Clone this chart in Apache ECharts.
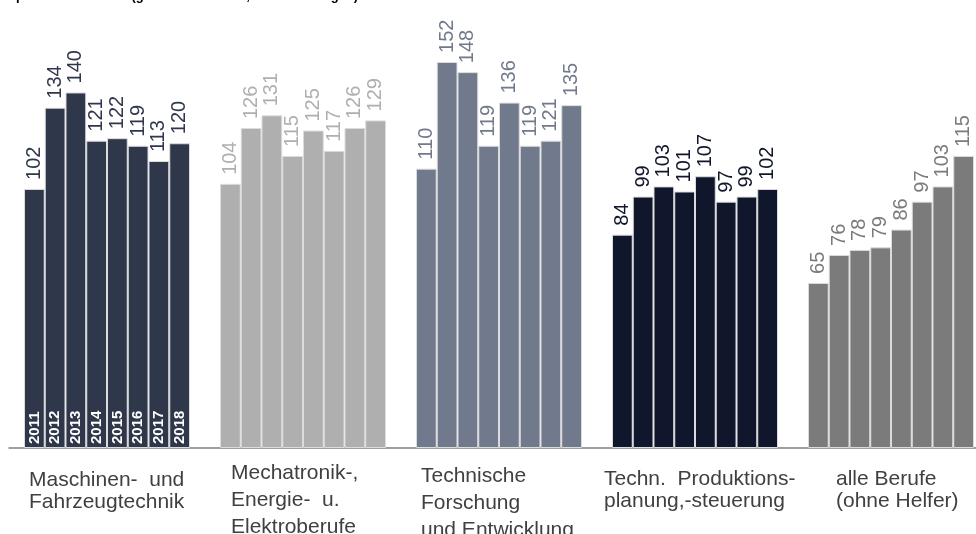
<!DOCTYPE html>
<html>
<head>
<meta charset="utf-8">
<script src="https://cdn.jsdelivr.net/npm/echarts@6/dist/echarts.min.js"></script>
<style>
html,body{margin:0;padding:0;background:#fff;}
#chart{width:976px;height:534px;}
</style>
</head>
<body>
<div id="chart"></div>
<script>
// ---- data ----
const categories = [
  'Maschinen-  und\nFahrzeugtechnik',
  'Mechatronik-,\nEnergie-  u.\nElektroberufe',
  'Technische\nForschung\nund Entwicklung',
  'Techn.  Produktions-\nplanung,-steuerung',
  'alle Berufe\n(ohne Helfer)'
];
const years = ['2011', '2012', '2013', '2014', '2015', '2016', '2017', '2018'];
const maschinen   = [102, 134, 140, 121, 122, 119, 113, 120];
const mechatronik = [104, 126, 131, 115, 125, 117, 126, 129];
const forschung   = [110, 152, 148, 119, 136, 119, 121, 135];
const produktion  = [84, 99, 103, 101, 107, 97, 99, 102];
const alleBerufe  = [65, 76, 78, 79, 86, 97, 103, 115];
const titleText = 'Expertenberufe 2018 (gemeldete Stellen, Vakanz in Tagen)';

// ---- styles ----
const groupColors = ['#2f374b', '#afafaf', '#717a8c', '#10162b', '#7b7b7b'];
const groups = [maschinen, mechatronik, forschung, produktion, alleBerufe];
const catStyles = [
  {align: 'left', padding: [13, 0, 0, -78], lineHeight: 22},
  {align: 'left', padding: [4, 0, 0, -72], lineHeight: 27},
  {align: 'left', padding: [7, 0, 0, -78], lineHeight: 27},
  {align: 'left', padding: [12, 0, 0, -91], lineHeight: 22},
  {align: 'left', padding: [12, 0, 0, -55], lineHeight: 22}
];

const chart = echarts.init(document.getElementById('chart'), null, {renderer: 'canvas'});

const valueSeries = years.map((y, i) => ({
  name: y,
  type: 'bar',
  xAxisIndex: 0,
  barGap: '0%',
  barCategoryGap: '15.3%',
  data: groups.map((g, gi) => ({
    value: g[i],
    itemStyle: {color: groupColors[gi]},
    label: {color: groupColors[gi]}
  })),
  itemStyle: {borderColor: '#dcdcdc', borderWidth: 1},
  label: {
    show: true,
    position: 'top',
    rotate: 90,
    align: 'left',
    verticalAlign: 'middle',
    distance: 9,
    fontSize: 20,
    fontFamily: 'Liberation Sans, Arial, sans-serif'
  },
  animation: false
}));

const yearSeries = years.map((y, i) => ({
  name: 'y' + y,
  type: 'bar',
  xAxisIndex: 1,
  barGap: '0%',
  barCategoryGap: '15.3%',
  silent: true,
  data: groups.map((g, gi) => gi === 0 ? g[i] : '-'),
  itemStyle: {color: 'rgba(0,0,0,0)', borderWidth: 0},
  label: {
    show: true,
    position: 'insideBottom',
    rotate: 90,
    align: 'left',
    verticalAlign: 'middle',
    distance: 4,
    fontSize: 15,
    fontWeight: 'bold',
    color: '#ffffff',
    fontFamily: 'Liberation Sans, Arial, sans-serif',
    formatter: () => y
  },
  animation: false
}));

chart.setOption({
  animation: false,
  backgroundColor: '#ffffff',
  grid: {left: 9, top: 0, width: 980, height: 448, containLabel: false, outerBoundsMode: 'none'},
  graphic: [{
    type: 'text',
    x: 0,
    y: -10,
    style: {
      text: titleText,
      fontSize: 13,
      fontWeight: 'bold',
      fontFamily: 'Liberation Sans, Arial, sans-serif',
      verticalAlign: 'top',
      fill: '#000'
    }
  }],
  xAxis: [{
    type: 'category',
    data: categories.map((c, i) => ({value: c, textStyle: catStyles[i]})),
    axisLine: {show: true, lineStyle: {color: '#7f7f7f', width: 1.5}},
    axisTick: {show: false},
    axisLabel: {
      interval: 0,
      margin: 8,
      align: 'left',
      fontSize: 21,
      color: '#404040',
      fontFamily: 'Liberation Sans, Arial, sans-serif'
    }
  }, {
    type: 'category',
    data: categories,
    show: false
  }],
  yAxis: {
    type: 'value',
    min: 0,
    max: 176.4,
    show: false,
    splitLine: {show: false}
  },
  series: valueSeries.concat(yearSeries)
});
</script>
</body>
</html>
